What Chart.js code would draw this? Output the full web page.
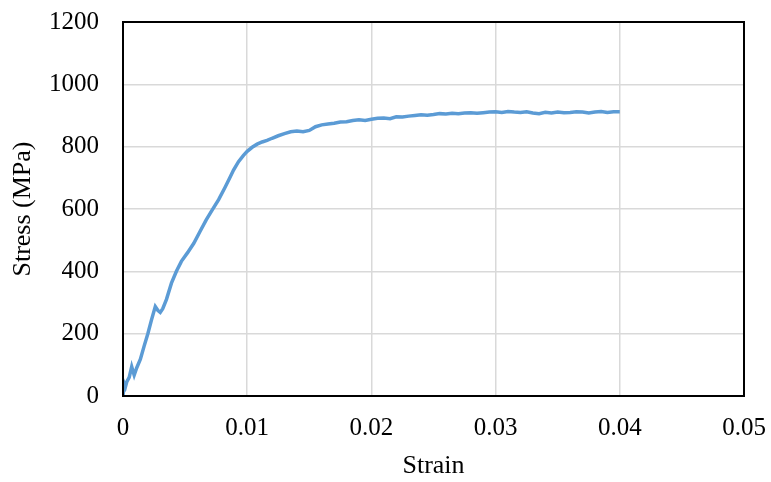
<!DOCTYPE html>
<html>
<head>
<meta charset="utf-8">
<script src="https://cdn.jsdelivr.net/npm/chart.js@4"></script>
<style>
  html, body { margin: 0; padding: 0; background: #fff; }
  #wrap { width: 771px; height: 482px; }
</style>
</head>
<body>
<div id="wrap"><canvas id="stressChart" width="771" height="482"></canvas></div>
<script>
// Данные кривой (деформация / напряжение)
const strain = [
  0, 0.0001, 0.0002, 0.0003, 0.0005, 0.0007, 0.0008, 0.0009, 0.0011, 0.0014,
  0.0017, 0.0020, 0.0023, 0.0026, 0.0028, 0.0030, 0.0032, 0.0035, 0.0039, 0.0043,
  0.0047, 0.0052, 0.0057, 0.0062, 0.0067, 0.0072, 0.0077, 0.0082, 0.0086, 0.0089,
  0.0093, 0.0097, 0.0100, 0.0104, 0.0108, 0.0112, 0.0116, 0.0120, 0.0125, 0.0130,
  0.0135, 0.0140, 0.0145, 0.0150, 0.0155, 0.0160, 0.0165, 0.0170, 0.0175, 0.0180,
  0.0185, 0.0190, 0.0195, 0.0200, 0.0205, 0.0210, 0.0215, 0.0220, 0.0225, 0.0230,
  0.0235, 0.0240, 0.0245, 0.0250, 0.0255, 0.0260, 0.0265, 0.0270, 0.0275, 0.0280,
  0.0285, 0.0290, 0.0295, 0.0300, 0.0305, 0.0310, 0.0315, 0.0320, 0.0325, 0.0330,
  0.0335, 0.0340, 0.0345, 0.0350, 0.0355, 0.0360, 0.0365, 0.0370, 0.0375, 0.0380,
  0.0385, 0.0390, 0.0395, 0.0400
];
const stress = [
  0, 40, 30, 45, 60, 94, 80, 67, 90, 118,
  160, 200, 245, 287, 275, 268, 280, 310, 362, 400,
  432, 460, 490, 528, 565, 598, 630, 668, 700, 725,
  752, 772, 785, 798, 808, 815, 820, 827, 835, 842,
  848, 850, 848, 852, 864, 870, 873, 875, 879, 880,
  884, 886, 884, 888, 891, 892, 890, 896, 895, 898,
  900, 902, 901, 903, 906, 905, 907, 906, 908, 909,
  907, 909, 911, 912, 910, 913, 911, 910, 912, 908,
  906, 910, 908, 911, 909, 910, 912, 911, 908, 911,
  913, 910, 912, 912
];

// Подписи осей
const xTitle = 'Strain';
const yTitle = 'Stress (MPa)';

const points = strain.map((s, i) => ({ x: s, y: stress[i] }));
const serif = '"Liberation Serif", "Times New Roman", serif';

// Рамка вокруг области графика
const frame = {
  id: 'frame',
  afterDraw(chart) {
    const a = chart.chartArea;
    const ctx = chart.ctx;
    ctx.save();
    ctx.strokeStyle = '#000';
    ctx.lineWidth = 2;
    ctx.strokeRect(a.left, a.top, a.right - a.left, a.bottom - a.top);
    ctx.restore();
  }
};

// Без автоматических отступов под подписи
function noPad(scale) {
  scale.paddingTop = 0;
  scale.paddingBottom = 0;
  scale.paddingLeft = 0;
  scale.paddingRight = 0;
}

new Chart(document.getElementById('stressChart').getContext('2d'), {
  type: 'scatter',
  data: {
    datasets: [{
      data: points,
      showLine: true,
      borderColor: '#5B9BD5',
      borderWidth: 3.5,
      pointRadius: 0,
      tension: 0
    }]
  },
  options: {
    responsive: false,
    animation: false,
    layout: { padding: { top: 22, right: 27, left: 0, bottom: 0 } },
    plugins: { legend: { display: false }, tooltip: { enabled: false } },
    scales: {
      x: {
        type: 'linear',
        min: 0, max: 0.05,
        afterFit(scale) { scale.height = 86; noPad(scale); },
        border: { display: false },
        grid: { color: '#d9d9d9', lineWidth: 1.5, drawTicks: false },
        ticks: {
          stepSize: 0.01,
          padding: 17,
          color: '#000',
          font: { family: serif, size: 25 },
          callback: v => v === 0 ? '0' : v.toFixed(2)
        },
        title: {
          display: true, text: xTitle, color: '#000',
          font: { family: serif, size: 26 },
          padding: { top: 0, bottom: 0 }
        }
      },
      y: {
        min: 0, max: 1200,
        afterFit(scale) { scale.width = 123; noPad(scale); },
        border: { display: false },
        grid: { color: '#d9d9d9', lineWidth: 1.5, drawTicks: false },
        ticks: {
          stepSize: 200,
          padding: 24,
          color: '#000',
          font: { family: serif, size: 25 },
          callback: v => String(v)
        },
        title: {
          display: true, text: yTitle, color: '#000',
          font: { family: serif, size: 26 },
          padding: { top: 8, bottom: 0 }
        }
      }
    }
  },
  plugins: [frame]
});
</script>
</body>
</html>
